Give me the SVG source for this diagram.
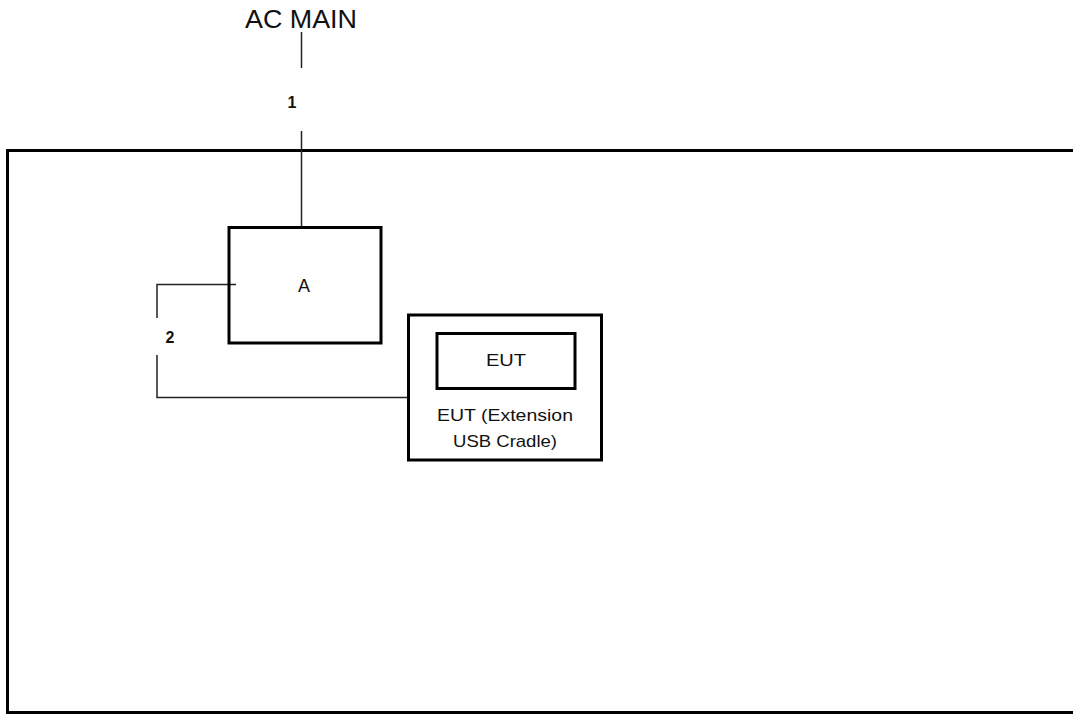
<svg xmlns="http://www.w3.org/2000/svg" width="1073" height="715" viewBox="0 0 1073 715">
<style>
.box{fill:none;stroke:#000;stroke-width:3}
.wire{fill:none;stroke:#222;stroke-width:1.5}
.t{font-family:"Liberation Sans",Arial,sans-serif;fill:#111;text-anchor:middle}
.lbl{font-family:"Liberation Sans",Arial,sans-serif;font-weight:bold;fill:#111;text-anchor:middle;font-size:16px}
</style>
<rect width="1073" height="715" fill="#fff"/>
<g id="frame"><path class="box" d="M1075,150.5 H7.5 V712.5 H1075"/></g>
<g id="acmain"><text class="t" x="301" y="28" font-size="25" textLength="112" lengthAdjust="spacingAndGlyphs">AC MAIN</text></g>
<g id="connectors">
<path class="wire" d="M301.5,32 V68 M301.5,131 V228"/>
<text class="lbl" x="292" y="108">1</text>
<path class="wire" d="M236,284.5 H157 V318 M157,355 V397.5 H409"/>
<text class="lbl" x="170" y="343">2</text>
</g>
<g id="nodeA">
<rect class="box" x="229" y="227.5" width="152" height="115.5"/>
<text class="t" x="304" y="292" font-size="18">A</text>
</g>
<g id="eut">
<rect class="box" x="408.5" y="315" width="193" height="145"/>
<rect class="box" x="437" y="333.5" width="138" height="55"/>
<text class="t" x="506" y="366" font-size="17" textLength="40" lengthAdjust="spacingAndGlyphs">EUT</text>
<text class="t" x="505" y="421" font-size="17" textLength="136" lengthAdjust="spacingAndGlyphs">EUT (Extension</text>
<text class="t" x="505" y="447" font-size="17" textLength="104" lengthAdjust="spacingAndGlyphs">USB Cradle)</text>
</g>
</svg>
